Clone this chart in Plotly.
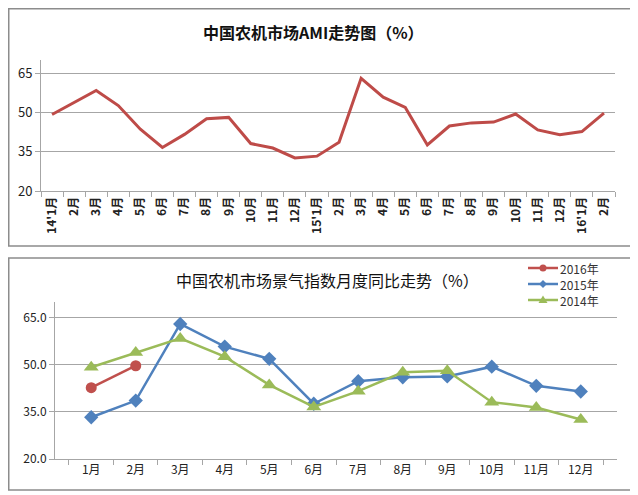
import plotly.graph_objects as go
from plotly.subplots import make_subplots

# top chart: monthly AMI, Jan 2014 - Feb 2016
AMI_LABELS = ["14'1月", "2月", "3月", "4月", "5月", "6月", "7月", "8月", "9月", "10月", "11月", "12月",
              "15'1月", "2月", "3月", "4月", "5月", "6月", "7月", "8月", "9月", "10月", "11月", "12月",
              "16'1月", "2月"]
AMI_VALUES = [49.2, 53.9, 58.4, 52.6, 43.6, 36.6, 41.6, 47.6, 48.1, 38.1, 36.4, 32.6,
              33.3, 38.6, 63.0, 55.8, 51.9, 37.6, 44.8, 46.0, 46.3, 49.4, 43.3, 41.5,
              42.7, 49.7]

# bottom chart: year-on-year by month
MONTHS = ["1月", "2月", "3月", "4月", "5月", "6月", "7月", "8月", "9月", "10月", "11月", "12月"]
Y2016 = [42.7, 49.7]
Y2015 = [33.3, 38.6, 63.0, 55.8, 51.9, 37.6, 44.8, 46.0, 46.3, 49.4, 43.3, 41.5]
Y2014 = [49.2, 53.9, 58.4, 52.6, 43.6, 36.6, 41.6, 47.6, 48.1, 38.1, 36.4, 32.6]

SERIES = [
    ("2016年", Y2016, "#c0504d", "circle", 11),
    ("2015年", Y2015, "#4f81bd", "diamond", 11),
    ("2014年", Y2014, "#9bbb59", "triangle-up", 13),
]

FONT = "Noto Sans CJK SC"
W, H = 638, 495
OFF = 8  # page body margin
GRID = "#a6a6a6"


def px_x(p):
    return (p - OFF) / W


def px_y(p):
    return 1 - (p - OFF) / H


fig = make_subplots(rows=2, cols=1)

fig.add_trace(go.Scatter(
    x=list(range(len(AMI_VALUES))), y=AMI_VALUES, mode="lines",
    line=dict(color="#be4b48", width=3), showlegend=False,
), row=1, col=1)

for name, vals, color, symbol, size in SERIES:
    fig.add_trace(go.Scatter(
        x=MONTHS[:len(vals)], y=vals, name=name, mode="lines+markers",
        line=dict(color=color, width=2.5), marker=dict(symbol=symbol, size=size),
        showlegend=False,
    ), row=2, col=1)

# frames round the two charts + compact hand-drawn legend
shapes = [
    dict(type="rect", xref="paper", yref="paper",
         x0=px_x(8.75), x1=px_x(631), y0=px_y(246), y1=px_y(8.75),
         line=dict(color="#8c8c8c", width=1.5)),
    dict(type="rect", xref="paper", yref="paper",
         x0=px_x(8.75), x1=px_x(631), y0=px_y(490), y1=px_y(258),
         line=dict(color="#8c8c8c", width=1.5)),
]
annotations = [
    dict(text="<b>中国农机市场AMI走势图（%）</b>", xref="paper", yref="paper",
         x=px_x(313), y=px_y(32), xanchor="center", yanchor="middle",
         showarrow=False, font=dict(size=16, color="#111")),
    dict(text="中国农机市场景气指数月度同比走势（%）", xref="paper", yref="paper",
         x=px_x(328), y=px_y(280), xanchor="center", yanchor="middle",
         showarrow=False, font=dict(size=16, color="#111")),
]
for i, (name, _, color, symbol, _) in enumerate(SERIES):
    cy = 268 + i * 16
    cx = 543
    shapes.append(dict(type="line", xref="paper", yref="paper",
                       x0=px_x(528), x1=px_x(558), y0=px_y(cy), y1=px_y(cy),
                       line=dict(color=color, width=2.5)))
    if symbol == "circle":
        shapes.append(dict(type="circle", xref="paper", yref="paper",
                           x0=px_x(cx - 3.5), x1=px_x(cx + 3.5),
                           y0=px_y(cy + 3.5), y1=px_y(cy - 3.5),
                           fillcolor=color, line=dict(width=0)))
        continue
    if symbol == "diamond":
        pts = [(cx, cy - 4), (cx + 4, cy), (cx, cy + 4), (cx - 4, cy)]
    else:
        pts = [(cx, cy - 4.5), (cx + 4.5, cy + 3), (cx - 4.5, cy + 3)]
    path = "M " + " L ".join(f"{px_x(a):.5f},{px_y(b):.5f}" for a, b in pts) + " Z"
    shapes.append(dict(type="path", xref="paper", yref="paper", path=path,
                       fillcolor=color, line=dict(width=0)))

for i, (name, *_rest) in enumerate(SERIES):
    annotations.append(dict(text=name, xref="paper", yref="paper",
                            x=px_x(559), y=px_y(268 + i * 16), xanchor="left",
                            yanchor="middle", borderpad=0, showarrow=False,
                            font=dict(size=12, color="#333")))

fig.update_layout(
    width=W, height=H,
    margin=dict(l=0, r=0, t=0, b=0),
    paper_bgcolor="white", plot_bgcolor="white",
    font=dict(family=FONT, size=12, color="#222"),
    showlegend=False,
    xaxis=dict(
        domain=[px_x(41), px_x(615)], range=[-0.5, len(AMI_VALUES) - 0.5],
        tickvals=list(range(len(AMI_LABELS))), ticktext=AMI_LABELS,
        tickangle=-90, tickfont=dict(size=12, weight="bold"), ticks="",
        minor=dict(ticks="outside", tick0=-0.5, dtick=1, ticklen=5, tickcolor=GRID),
        showgrid=False, showline=True, linecolor=GRID, zeroline=False, automargin=False,
    ),
    yaxis=dict(
        domain=[px_y(191), px_y(60)], range=[20, 70], tick0=20, dtick=15,
        tickfont=dict(size=13), showgrid=True, gridcolor=GRID,
        showline=True, linecolor=GRID, ticks="outside", ticklen=5, tickcolor=GRID,
        zeroline=False, automargin=False,
    ),
    xaxis2=dict(
        domain=[px_x(55), px_x(617)], type="category", tickson="boundaries",
        ticks="outside", ticklen=5, tickcolor=GRID, tickfont=dict(size=12),
        showgrid=False, showline=True, linecolor=GRID, automargin=False,
    ),
    yaxis2=dict(
        domain=[px_y(459), px_y(302)], range=[20, 70], tick0=20, dtick=15,
        tickformat=".1f", tickfont=dict(size=12), showgrid=True, gridcolor=GRID,
        showline=True, linecolor=GRID, ticks="outside", ticklen=5, tickcolor=GRID,
        zeroline=False, automargin=False,
    ),
    shapes=shapes,
    annotations=annotations,
)

fig.write_html("out.html")
